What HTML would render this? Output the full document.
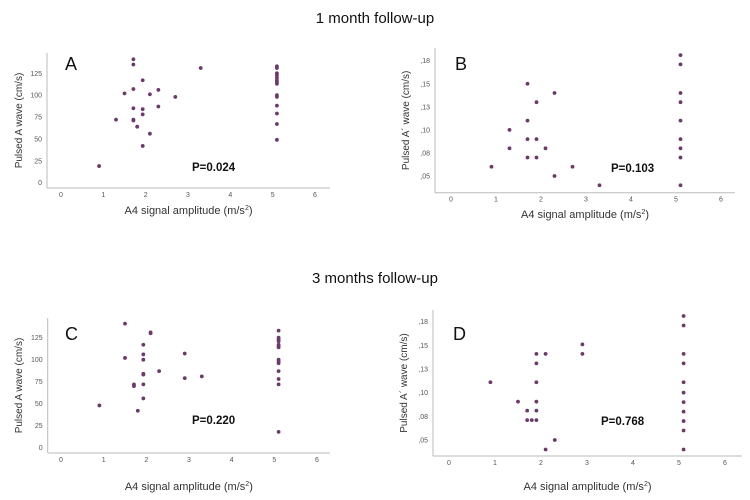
<!DOCTYPE html>
<html><head><meta charset="utf-8"><style>
body{margin:0;background:#fff;}
svg{display:block;font-family:"Liberation Sans",sans-serif;}
</style></head><body>
<svg id="chart" width="750" height="500" viewBox="0 0 750 500">
<text x="375" y="23" font-size="15" text-anchor="middle" fill="#111">1 month follow-up</text>
<text x="375" y="283" font-size="15" text-anchor="middle" fill="#111">3 months follow-up</text>
</svg>
<script>
const xTicks=[0,1,2,3,4,5,6];
const velTicks=[0,25,50,75,100,125];
const velTickLabels=["0","25","50","75","100","125"];
const tdiTicks=[0.05,0.075,0.1,0.125,0.15,0.175];
const tdiTickLabels=[",05",",08",",10",",13",",15",",18"];
const aX=[1.71,1.71,3.3,1.93,1.5,1.71,2.1,2.3,2.7,1.71,1.93,1.93,2.3,1.3,1.71,1.71,1.8,2.1,1.93,0.9,5.1,5.1,5.1,5.1,5.1,5.1,5.1,5.1,5.1,5.1,5.1,5.1,5.1,5.1];
const aY=[141,135,131,117,102,107,101,106,98,85,84,78,87,72,72,71,64,56,42,19,133,131,125,123,120,117,115,113,100,98,88,79,67,49];
const bX=[0.9,1.3,1.3,1.7,1.7,1.7,1.7,1.9,1.9,1.9,2.1,2.3,2.3,2.7,3.3,5.1,5.1,5.1,5.1,5.1,5.1,5.1,5.1,5.1];
const bY=[0.06,0.10,0.08,0.15,0.11,0.09,0.07,0.13,0.09,0.07,0.08,0.14,0.05,0.06,0.04,0.181,0.171,0.14,0.13,0.11,0.09,0.08,0.07,0.04];
const cX=[1.5,2.1,2.1,1.93,1.5,1.93,1.93,2.9,2.3,1.93,1.93,2.9,3.3,1.71,1.71,1.93,1.93,0.9,1.8,5.1,5.1,5.1,5.1,5.1,5.1,5.1,5.1,5.1,5.1,5.1,5.1,5.1,5.1];
const cY=[141,131,130,117,102,106,100,107,87,84,83,79,81,72,70,72,56,48,42,133,125,123,121,117,115,114,100,98,96,87,78,72,18];
const dX=[0.9,1.5,1.7,1.7,1.8,1.9,1.9,1.9,1.9,1.9,1.9,2.1,2.1,2.3,2.9,2.9,5.1,5.1,5.1,5.1,5.1,5.1,5.1,5.1,5.1,5.1,5.1];
const dY=[0.111,0.0905,0.081,0.071,0.071,0.071,0.081,0.0905,0.111,0.131,0.141,0.141,0.04,0.05,0.151,0.141,0.181,0.171,0.141,0.131,0.111,0.10,0.09,0.08,0.07,0.06,0.04];

const NS="http://www.w3.org/2000/svg";
const svg=document.getElementById('chart');
function mk(tag,attrs,parent){const e=document.createElementNS(NS,tag);for(const k in attrs)e.setAttribute(k,attrs[k]);(parent||svg).appendChild(e);return e;}

const panels=[
 {id:'a',letter:'A',p:'P=0.024',xs:aX,ys:aY,yt:velTicks,yl:velTickLabels,ax:47,top:53,bottom:188,right:330,x0:61,x6:315,v0:0,y0:182.7,v1:125,y1:73.3,ytitle:'Pulsed A wave (cm/s)',ytx:22,xtitleY:214,px:192,py:171,lx:65,ly:70},
 {id:'b',letter:'B',p:'P=0.103',xs:bX,ys:bY,yt:tdiTicks,yl:tdiTickLabels,ax:435,top:48,bottom:192.7,right:735,x0:451,x6:721,v0:0.05,y0:176,v1:0.175,y1:60.7,ytitle:"Pulsed A´ wave (cm/s)",ytx:409,xtitleY:218,px:611,py:172,lx:455,ly:70},
 {id:'c',letter:'C',p:'P=0.220',xs:cX,ys:cY,yt:velTicks,yl:velTickLabels,ax:47.7,top:318,bottom:453,right:330,x0:61,x6:317,v0:0,y0:447.7,v1:125,y1:337.7,ytitle:'Pulsed A wave (cm/s)',ytx:22,xtitleY:490,px:192,py:424,lx:65,ly:340},
 {id:'d',letter:'D',p:'P=0.768',xs:dX,ys:dY,yt:tdiTicks,yl:tdiTickLabels,ax:433,top:310,bottom:456,right:742,x0:449,x6:725,v0:0.05,y0:440,v1:0.175,y1:321.7,ytitle:"Pulsed A´ wave (cm/s)",ytx:407,xtitleY:490,px:601,py:425,lx:453,ly:340}
];

panels.forEach(P=>{
 const g=mk('g',{});
 
 
 const xs=v=>P.x0+(P.x6-P.x0)*v/6;
 const ys=v=>P.y0+(P.y1-P.y0)*(v-P.v0)/(P.v1-P.v0);
 const yax=mk('line',{x1:P.ax,y1:P.top,x2:P.ax,y2:P.bottom,stroke:'#bbb','stroke-width':1},g);
 
 
 const xax=mk('line',{x1:P.ax,y1:P.bottom,x2:P.right,y2:P.bottom,stroke:'#bbb','stroke-width':1},g);
 
 
 xTicks.forEach(t=>{
  const tx=mk('text',{x:xs(t),y:P.bottom+9,'font-size':7,'text-anchor':'middle',fill:'#555'},g);
  tx.textContent=t;
  
  
 });
 P.yt.forEach((t,i)=>{
  const tx=mk('text',{x:P.ax-5,y:ys(t)+2.5,'font-size':7,'text-anchor':'end',fill:'#555'},g);
  tx.textContent=P.yl[i];
  
  
 });
 const yt=mk('text',{x:P.ytx,y:(P.top+P.bottom)/2,'font-size':10,'text-anchor':'middle',fill:'#333',transform:`rotate(-90 ${P.ytx} ${(P.top+P.bottom)/2})`},g);
 yt.textContent=P.ytitle;
 
 
 const xt=mk('text',{x:(P.ax+P.right)/2,y:P.xtitleY,'font-size':11,'text-anchor':'middle',fill:'#333'},g);
 xt.innerHTML='A4 signal amplitude (m/s<tspan font-size="7" dy="-4">2</tspan><tspan dy="4">)</tspan>';
 
 
 const lt=mk('text',{x:P.lx,y:P.ly,'font-size':18,fill:'#111'},g);
 lt.textContent=P.letter;
 
 
 const pt=mk('text',{x:P.px,y:P.py,'font-size':11.5,'font-weight':'bold',fill:'#111'},g);
 pt.textContent=P.p;
 
 
 P.xs.forEach((xv,i)=>{
  const c=mk('circle',{cx:xs(xv),cy:ys(P.ys[i]),r:1.9,fill:'#6b3a6b'},g);
  
  
 });
});
</script>
</body></html>
